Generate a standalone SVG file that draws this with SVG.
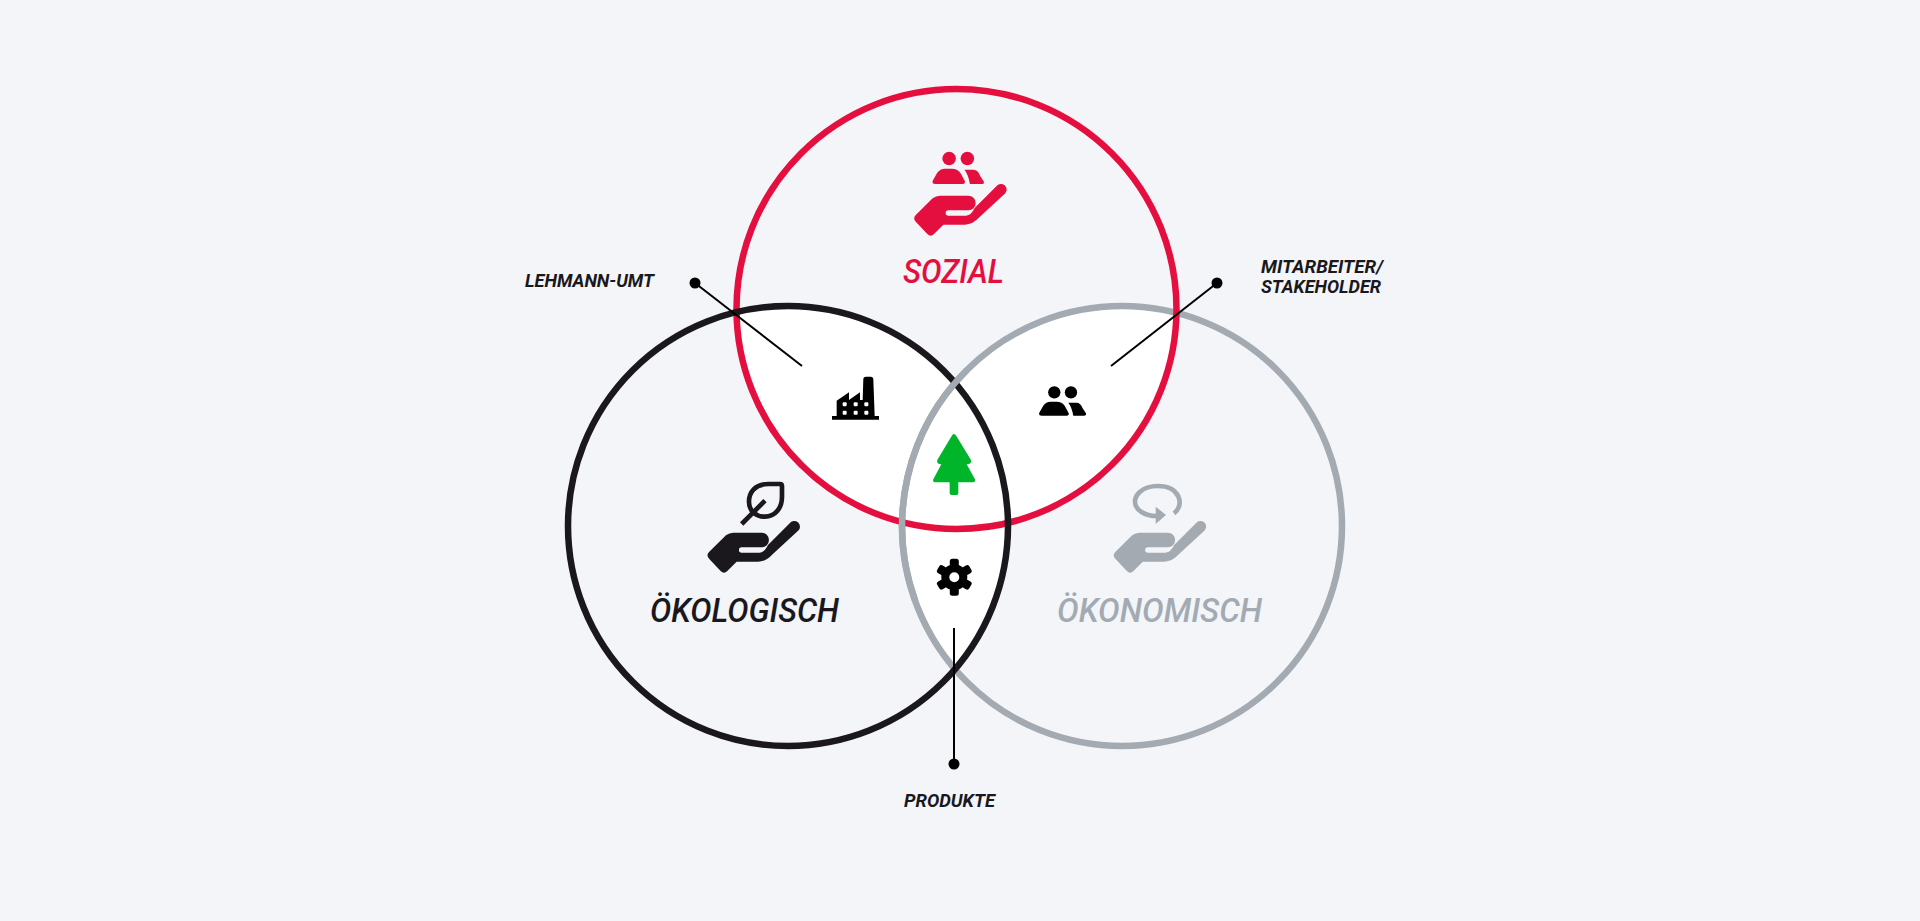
<svg xmlns="http://www.w3.org/2000/svg" xmlns:xlink="http://www.w3.org/1999/xlink" width="1920" height="921" viewBox="0 0 1920 921">
<style>
.ring{fill:none;stroke-width:6.5}
.red{stroke:#e50f3f}.blk{stroke:#1a181c}.gry{stroke:#a3aab1}
.lens{fill:#fff}
.big{font-family:"Roboto","Liberation Sans",sans-serif;font-style:italic;font-size:33px;font-weight:500}
.lab{font-family:"Roboto","Liberation Sans",sans-serif;font-style:italic;font-weight:700;font-size:18.5px;fill:#1a181c}
.con{stroke:#000;stroke-width:2;fill:none}
</style>
<defs>
<path id="hand" d="M108,254L158,205Q168,197 180,197L265,197A22,22 0 0 1 265,241L205,241A8,8 0 0 0 205,257L258,257Q274,256 284,234L350,168A15,15 0 0 1 376,190L298,262Q278,284 255,284L190,284L162,312Q152,322 142,312L108,276Q97,265 108,254Z"/>
<g id="people">
<circle cx="45" cy="-70" r="18.5"/><circle cx="95" cy="-70" r="18.5"/>
<path d="M0,-9L12,-30Q20,-42 34,-42H52Q68,-42 76,-30L88,-8Q90,0 82,0H8Q-3,0 0,-9Z"/>
<path d="M87,-39H112Q124,-39 130,-22L140,-7Q142,0 134,0H102Q97,-27 87,-39Z"/>
</g>
</defs>
<rect width="1920" height="921" fill="#f3f5f9"/>
<g id="overlaps">
<path class="lens" d="M736,312.2A220,220 0 0 0 1008,522.8A220,220 0 0 0 736,312.2Z"/>
<path class="lens" d="M1176,312.6A220,220 0 0 1 902,522.4A220,220 0 0 1 1176,312.6Z"/>
<path class="lens" d="M955,382.8A220,220 0 0 1 955,669.2A220,220 0 0 1 955,382.8Z"/>
</g>
<g id="circles">
<circle class="ring gry" cx="1122" cy="526" r="220"/>
<circle class="ring red" cx="956.5" cy="309" r="220"/>
<circle class="ring blk" cx="788" cy="526" r="220"/>
<path class="ring gry" d="M967,370A220,220 0 0 0 915,600"/>
</g>
<g id="sozial">
<use xlink:href="#hand" href="#hand" transform="translate(880,130) scale(.3333)" fill="#e50f3f"/>
<use xlink:href="#people" href="#people" transform="translate(932.7,184) scale(.365)" fill="#e50f3f"/>
<text class="big" x="903" y="283" fill="#e50f3f" textLength="101" lengthAdjust="spacingAndGlyphs">SOZIAL</text>
</g>
<g id="oekologisch">
<use xlink:href="#hand" href="#hand" transform="translate(673.3,467) scale(.3333)" fill="#1a181c"/>
<g transform="translate(680,460) scale(.3333)" fill="none" stroke="#1a181c" stroke-width="14">
<path d="M300,72H265C225,72 207,97 207,125C207,155 230,170 255,170C285,170 306,145 306,110V78Q306,72 300,72Z"/>
<path d="M185,192L255,122"/>
</g>
<text class="big" x="650" y="622" fill="#1a181c" textLength="189" lengthAdjust="spacingAndGlyphs">ÖKOLOGISCH</text>
</g>
<g id="oekonomisch">
<use xlink:href="#hand" href="#hand" transform="translate(1079.5,467) scale(.3333)" fill="#a3aab1"/>
<g transform="translate(1090,460) scale(.3333)">
<path d="M252,160C285,135 270,78 204,78C150,78 135,110 135,125C135,150 165,168 200,168" fill="none" stroke="#a3aab1" stroke-width="14"/>
<path d="M197,140L228,165L197,192Z" fill="#a3aab1"/>
</g>
<text class="big" x="1057" y="622" fill="#a3aab1" textLength="205" lengthAdjust="spacingAndGlyphs">ÖKONOMISCH</text>
</g>
<g id="lehmann-umt">
<g transform="translate(810,360) scale(.3333)">
<path d="M66,168H80V122L117,97V120L150,97V120H158L160,58Q160,50 168,50H182Q190,50 190,58L194,168H207V179H66Z"/>
<g fill="#fff"><rect x="98" y="127" width="12" height="12" rx="3"/><rect x="131" y="127" width="12" height="12" rx="3"/><rect x="163" y="127" width="12" height="12" rx="3"/><rect x="98" y="152" width="12" height="12" rx="3"/><rect x="131" y="152" width="12" height="12" rx="3"/><rect x="163" y="152" width="12" height="12" rx="3"/></g>
</g>
<text class="lab" x="525" y="286.5" textLength="129" lengthAdjust="spacingAndGlyphs">LEHMANN-UMT</text>
</g>
<g id="mitarbeiter">
<use xlink:href="#people" href="#people" transform="translate(1039.3,415.7) scale(.3333)" fill="#000"/>
<text class="lab" x="1261" y="272.5" textLength="122" lengthAdjust="spacingAndGlyphs">MITARBEITER/</text>
<text class="lab" x="1261" y="293" textLength="120" lengthAdjust="spacingAndGlyphs">STAKEHOLDER</text>
</g>
<g id="tree">
<path transform="translate(810,360) scale(.3333)" fill="#00b52a" d="M425,228Q432,216 439,228L483,300Q487,312 470,313L495,358Q497,367 488,367H445V400Q445,405 440,405H425Q419,405 419,400V367H376Q367,367 370,358L394,313Q378,312 382,300Z"/>
</g>
<g id="produkte">
<g transform="translate(954.3,577.3)">
<circle r="9" fill="none" stroke="#000" stroke-width="8"/>
<rect x="-4.5" y="-18.5" width="9" height="8" rx="2.5"/><rect x="-4.5" y="-18.5" width="9" height="8" rx="2.5" transform="rotate(60)"/><rect x="-4.5" y="-18.5" width="9" height="8" rx="2.5" transform="rotate(120)"/><rect x="-4.5" y="-18.5" width="9" height="8" rx="2.5" transform="rotate(180)"/><rect x="-4.5" y="-18.5" width="9" height="8" rx="2.5" transform="rotate(240)"/><rect x="-4.5" y="-18.5" width="9" height="8" rx="2.5" transform="rotate(300)"/>
</g>
<text class="lab" x="904" y="806.5" textLength="91" lengthAdjust="spacingAndGlyphs">PRODUKTE</text>
</g>
<g id="connectors">
<path class="con" d="M695,283L802,366"/>
<path class="con" d="M1217,283L1111,366"/>
<path class="con" d="M954,628V764"/>
<circle cx="695" cy="283" r="5.5"/>
<circle cx="1217" cy="283" r="5.5"/>
<circle cx="954" cy="764" r="5.5"/>
</g>
</svg>
